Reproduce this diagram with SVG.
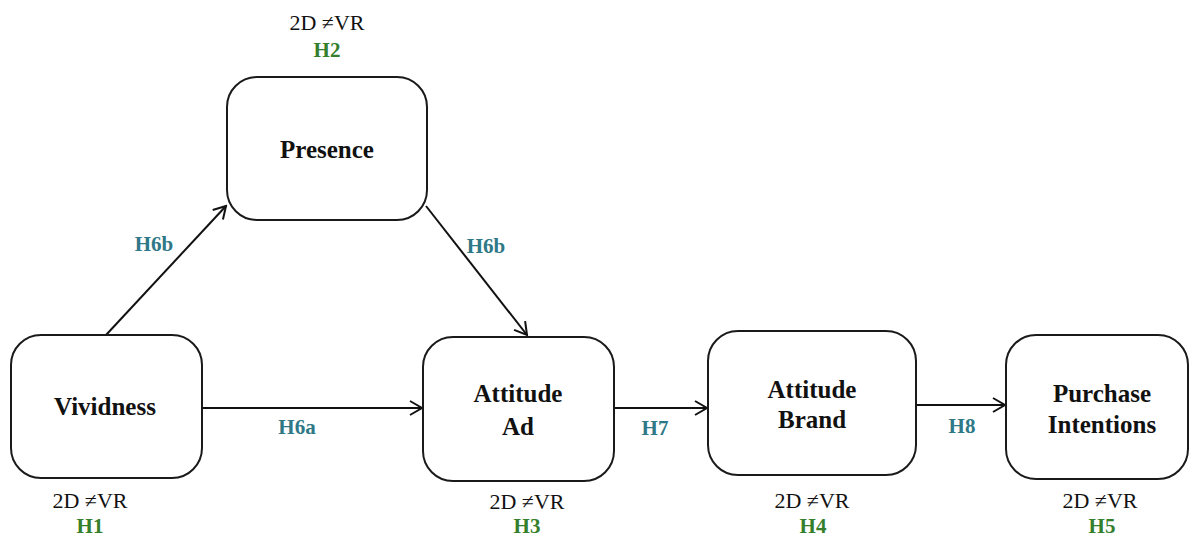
<svg xmlns="http://www.w3.org/2000/svg" width="1190" height="536" viewBox="0 0 1190 536">
<defs>
<style>
text{font-family:'Liberation Serif',Tinos,'DejaVu Serif',serif}
.box{fill:#fff;stroke:#1a1a1a;stroke-width:2}
.nl{font-weight:bold;font-size:25px;fill:#111;text-anchor:middle}
.cmp{font-size:22px;fill:#111;text-anchor:middle}
.hg{font-weight:bold;font-size:21px;fill:#357f2c;text-anchor:middle}
.ht{font-weight:bold;font-size:21px;fill:#2f7887;text-anchor:middle}
.edge{fill:none;stroke:#111;stroke-width:2;marker-end:url(#arr)}
</style>
<marker id="arr" markerUnits="userSpaceOnUse" markerWidth="16" markerHeight="16" viewBox="0 0 16 16" refX="14" refY="8" orient="auto">
<path d="M2,1 L14,8 L2,15" fill="none" stroke="#111" stroke-width="2"/>
</marker>
</defs>
<rect width="1190" height="536" fill="#fff"/>
<g id="connectors">
<line class="edge" x1="106" y1="335" x2="226" y2="206"/>
<line class="edge" x1="426" y1="206" x2="527" y2="335"/>
<line class="edge" x1="202" y1="408" x2="422" y2="408"/>
<line class="edge" x1="614" y1="408" x2="707" y2="408"/>
<line class="edge" x1="916" y1="405" x2="1005" y2="405"/>
<text class="ht" x="154" y="251">H6b</text>
<text class="ht" x="486" y="253">H6b</text>
<text class="ht" x="297" y="434">H6a</text>
<text class="ht" x="655" y="435">H7</text>
<text class="ht" x="962" y="433">H8</text>
</g>
<g id="presence">
<rect class="box" x="227" y="77" width="200" height="143" rx="30"/>
<text class="nl" x="327" y="158">Presence</text>
<text class="cmp" x="327" y="30">2D ≠VR</text>
<text class="hg" x="327" y="57">H2</text>
</g>
<g id="vividness">
<rect class="box" x="11" y="335" width="191" height="143" rx="30"/>
<text class="nl" x="105" y="415">Vividness</text>
<text class="cmp" x="90" y="508">2D ≠VR</text>
<text class="hg" x="90" y="533">H1</text>
</g>
<g id="attitude-ad">
<rect class="box" x="423" y="337" width="191" height="144" rx="30"/>
<text class="nl" x="518" y="402">Attitude</text>
<text class="nl" x="518" y="435">Ad</text>
<text class="cmp" x="527" y="509">2D ≠VR</text>
<text class="hg" x="527" y="533">H3</text>
</g>
<g id="attitude-brand">
<rect class="box" x="708" y="331" width="208" height="144" rx="30"/>
<text class="nl" x="812" y="398">Attitude</text>
<text class="nl" x="812" y="428">Brand</text>
<text class="cmp" x="812" y="508">2D ≠VR</text>
<text class="hg" x="813" y="533">H4</text>
</g>
<g id="purchase-intentions">
<rect class="box" x="1006" y="335" width="182" height="144" rx="30"/>
<text class="nl" x="1102" y="402">Purchase</text>
<text class="nl" x="1102" y="433">Intentions</text>
<text class="cmp" x="1100" y="508">2D ≠VR</text>
<text class="hg" x="1102" y="533">H5</text>
</g>
</svg>
